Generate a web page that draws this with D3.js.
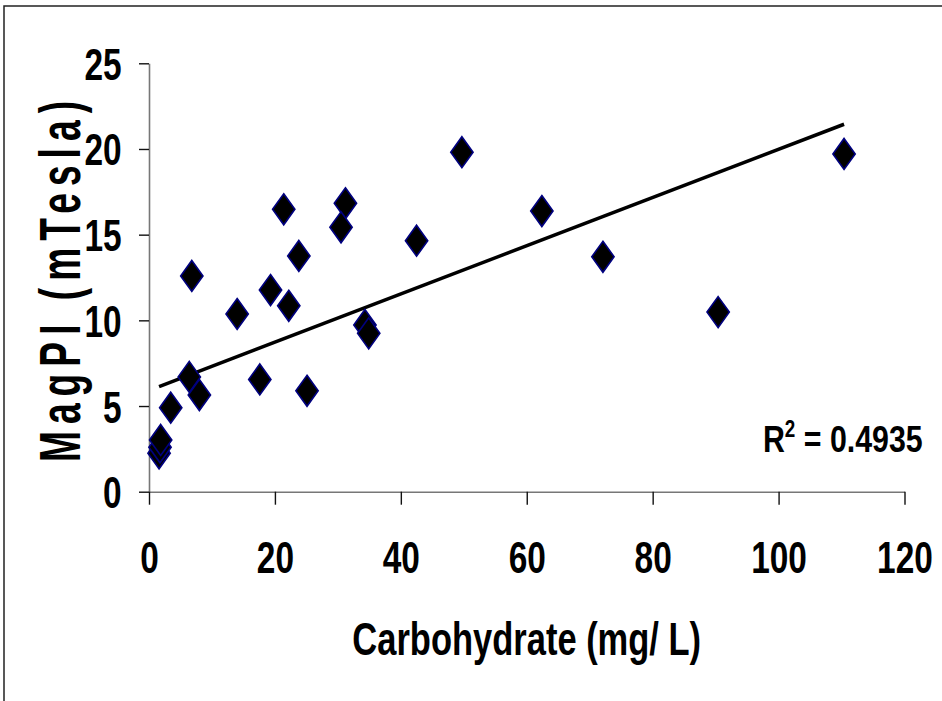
<!DOCTYPE html>
<html>
<head>
<meta charset="utf-8">
<script src="https://cdn.jsdelivr.net/npm/d3@7"></script>
<style>
  html, body { margin: 0; padding: 0; background: #fff; }
  svg { display: block; }
  text { font-family: "Liberation Sans", Arial, sans-serif; font-weight: bold; fill: #000; }
</style>
</head>
<body>
<svg id="chart" width="942" height="701"></svg>
<script>
// ---- data ----
const carbohydrate = [1.6, 1.75, 1.85, 3.45, 6.4, 8.0, 6.8, 14.0, 17.6, 19.3, 22.2, 23.8, 25.1, 21.4, 31.2, 30.5, 34.3, 34.9, 42.5, 49.7, 62.4, 72.1, 90.4, 110.4];
const magpi        = [2.24, 2.59, 3.02, 4.9, 6.7, 5.64, 12.59, 10.37, 6.55, 11.77, 10.85, 13.76, 5.89, 16.48, 16.83, 15.43, 9.73, 9.24, 14.65, 19.81, 16.38, 13.71, 10.48, 19.71];
const xTicks = [0, 20, 40, 60, 80, 100, 120];
const yTicks = [0, 5, 10, 15, 20, 25];
const trendSlope = 0.1407;
const trendIntercept = 5.91;
const rSquared = "0.4935";
const xTitle = "Carbohydrate (mg/ L)";
const yTitle = "MagPI (mTesla)";

// ---- layout ----
const svg = d3.select("#chart");
const pLeft = 149, pRight = 904.5, pTop = 63.3, pBottom = 491.7;
const x = d3.scaleLinear().domain([0, 120]).range([pLeft, pRight]);
const y = d3.scaleLinear().domain([0, 25]).range([pBottom, pTop]);
const SX = 0.76; // horizontal condensing of the text

// outer frame (only top and left visible)
svg.append("rect").attr("x", 4).attr("y", 6).attr("width", 1200).attr("height", 1200)
  .attr("fill", "none").attr("stroke", "#222").attr("stroke-width", 1.5);

// axes
const yAxis = svg.append("g").attr("transform", `translate(${pLeft},0)`)
  .call(d3.axisLeft(y).tickValues(yTicks).tickSize(10).tickSizeOuter(0));
const xAxis = svg.append("g").attr("transform", `translate(0,${pBottom})`)
  .call(d3.axisBottom(x).tickValues(xTicks).tickSize(13).tickSizeOuter(0));

[yAxis, xAxis].forEach(g => {
  g.select(".domain").attr("stroke", "#777").attr("stroke-width", 1.6);
  g.selectAll(".tick line").attr("stroke", "#111").attr("stroke-width", 1.4);
});

yAxis.selectAll(".tick text")
  .attr("x", 0).attr("y", 0).attr("dy", null)
  .attr("transform", `translate(-27.3,16) scale(${SX},1)`)
  .attr("text-anchor", "end")
  .style("font-size", "44px").style("font-family", "'Liberation Sans', Arial, sans-serif")
  .style("font-weight", "bold").attr("fill", "#000");

xAxis.selectAll(".tick text")
  .attr("x", 0).attr("y", 0).attr("dy", null)
  .attr("transform", `translate(0,81) scale(${SX},1)`)
  .attr("text-anchor", "middle")
  .style("font-size", "44px").style("font-family", "'Liberation Sans', Arial, sans-serif")
  .style("font-weight", "bold").attr("fill", "#000");

// trend line across the data's x range
const xExt = d3.extent(carbohydrate);
const trend = xExt.map(v => [v, trendIntercept + trendSlope * v]);
svg.append("path")
  .datum(trend)
  .attr("d", d3.line().x(d => x(d[0])).y(d => y(d[1])))
  .attr("fill", "none").attr("stroke", "#000").attr("stroke-width", 3.5);

// diamond markers
const diamond = {
  draw(ctx, size) {
    const h = Math.sqrt(size) / 2, w = h * 0.72;
    ctx.moveTo(0, -h); ctx.lineTo(w, 0); ctx.lineTo(0, h); ctx.lineTo(-w, 0); ctx.closePath();
  }
};
const pts = carbohydrate.map((c, i) => ({ c, m: magpi[i] }));
svg.append("g").selectAll("path").data(pts).join("path")
  .attr("d", d3.symbol().type(diamond).size(31 * 31))
  .attr("transform", d => `translate(${x(d.c)},${y(d.m)})`)
  .attr("fill", "#000").attr("stroke", "#000080").attr("stroke-width", 1.6);

// R squared label
const r2 = svg.append("text")
  .attr("transform", `translate(922.7,451.7) scale(0.82,1)`)
  .attr("text-anchor", "end").style("font-size", "37px");
r2.append("tspan").text("R");
r2.append("tspan").attr("dy", -15).style("font-size", "23px").text("2");
r2.append("tspan").attr("dy", 15).text(" = " + rSquared);

// axis titles
svg.append("text")
  .attr("transform", `translate(526.7,655) scale(0.75,1)`)
  .attr("text-anchor", "middle").style("font-size", "46px")
  .text(xTitle);

svg.append("text")
  .attr("transform", `translate(80,278) rotate(-90) scale(0.64,1)`)
  .attr("text-anchor", "middle").style("font-size", "58px")
  .attr("letter-spacing", "11")
  .text(yTitle);
</script>
</body>
</html>
